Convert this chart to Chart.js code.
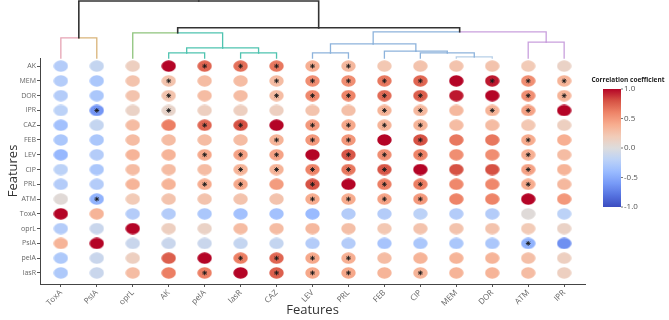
<!DOCTYPE html>
<html>
<head>
<meta charset="utf-8">
<script src="https://cdn.jsdelivr.net/npm/chart.js@4/dist/chart.umd.min.js"></script>
<style>
  html, body { margin: 0; padding: 0; background: #fff; }
</style>
</head>
<body>
<canvas id="corrChart" width="669" height="320"></canvas>
<script>
// labels (columns follow the dendrogram order, rows as in the plot)
const colLabels = ['ToxA', 'PsIA', 'oprL', 'AK', 'peIA', 'lasR', 'CAZ', 'LEV', 'PRL', 'FEB', 'CIP', 'MEM', 'DOR', 'ATM', 'IPR'];
const rowLabels = ['AK', 'MEM', 'DOR', 'IPR', 'CAZ', 'FEB', 'LEV', 'CIP', 'PRL', 'ATM', 'ToxA', 'oprL', 'PsIA', 'peIA', 'lasR'];

// correlation coefficients, one row per rowLabels entry
const corr = [
    [-0.25, -0.15, 0.15, 1.00, 0.72, 0.68, 0.65, 0.38, 0.32, 0.22, 0.25, 0.25, 0.25, 0.20, 0.12],
    [-0.25, -0.30, 0.25, 0.25, 0.30, 0.30, 0.30, 0.55, 0.55, 0.65, 0.72, 1.00, 0.95, 0.55, 0.35],
    [-0.25, -0.30, 0.25, 0.25, 0.30, 0.30, 0.30, 0.58, 0.60, 0.70, 0.75, 0.95, 1.00, 0.55, 0.35],
    [-0.20, -0.62, 0.12, 0.10, 0.15, 0.15, 0.15, 0.25, 0.28, 0.35, 0.32, 0.32, 0.35, 0.45, 1.00],
    [-0.35, -0.15, 0.30, 0.62, 0.72, 0.80, 1.00, 0.50, 0.42, 0.35, 0.35, 0.30, 0.30, 0.22, 0.15],
    [-0.30, -0.30, 0.30, 0.30, 0.30, 0.30, 0.35, 0.50, 0.50, 1.00, 0.80, 0.65, 0.65, 0.40, 0.38],
    [-0.42, -0.25, 0.35, 0.35, 0.42, 0.45, 0.45, 1.00, 0.78, 0.55, 0.60, 0.55, 0.55, 0.38, 0.30],
    [-0.20, -0.30, 0.30, 0.30, 0.30, 0.35, 0.35, 0.60, 0.65, 0.78, 1.00, 0.80, 0.80, 0.45, 0.35],
    [-0.25, -0.25, 0.35, 0.35, 0.40, 0.42, 0.48, 0.80, 1.00, 0.62, 0.62, 0.58, 0.58, 0.40, 0.32],
    [0.03, -0.45, 0.20, 0.25, 0.25, 0.25, 0.25, 0.40, 0.40, 0.45, 0.50, 0.60, 0.60, 1.00, 0.50],
    [1.00, 0.35, -0.25, -0.25, -0.30, -0.35, -0.35, -0.40, -0.25, -0.25, -0.20, -0.25, -0.25, 0.02, -0.20],
    [-0.25, -0.12, 1.00, 0.15, 0.12, 0.30, 0.30, 0.32, 0.28, 0.22, 0.25, 0.25, 0.25, 0.20, 0.12],
    [0.35, 1.00, -0.12, -0.12, -0.12, -0.15, -0.15, -0.25, -0.25, -0.32, -0.30, -0.30, -0.30, -0.45, -0.65],
    [-0.28, -0.12, 0.15, 0.75, 1.00, 0.62, 0.72, 0.42, 0.38, 0.30, 0.35, 0.35, 0.35, 0.28, 0.15],
    [-0.28, -0.12, 0.30, 0.62, 0.62, 1.00, 0.75, 0.42, 0.42, 0.35, 0.35, 0.35, 0.35, 0.30, 0.15]
];

// 1 = significant (asterisk)
const sig = [
    [0, 0, 0, 0, 1, 1, 1, 1, 1, 0, 0, 0, 0, 0, 0],
    [0, 0, 0, 1, 0, 0, 1, 1, 1, 1, 1, 0, 1, 1, 1],
    [0, 0, 0, 1, 0, 0, 1, 1, 1, 1, 1, 0, 0, 1, 1],
    [0, 1, 0, 1, 0, 0, 0, 0, 0, 1, 1, 0, 1, 1, 0],
    [0, 0, 0, 0, 1, 1, 0, 1, 1, 1, 1, 0, 0, 0, 0],
    [0, 0, 0, 0, 0, 0, 1, 1, 1, 0, 1, 0, 0, 1, 0],
    [0, 0, 0, 0, 1, 1, 1, 0, 1, 1, 1, 0, 0, 1, 0],
    [0, 0, 0, 0, 0, 1, 1, 1, 1, 1, 0, 0, 0, 1, 0],
    [0, 0, 0, 0, 1, 1, 0, 1, 0, 1, 1, 0, 0, 1, 0],
    [0, 1, 0, 0, 0, 0, 0, 1, 1, 1, 1, 0, 0, 0, 0],
    [0, 0, 0, 0, 0, 0, 0, 0, 0, 0, 0, 0, 0, 0, 0],
    [0, 0, 0, 0, 0, 0, 0, 0, 0, 0, 0, 0, 0, 0, 0],
    [0, 0, 0, 0, 0, 0, 0, 0, 0, 0, 0, 0, 0, 1, 0],
    [0, 0, 0, 0, 0, 1, 1, 1, 1, 0, 0, 0, 0, 0, 0],
    [0, 0, 0, 0, 1, 0, 1, 1, 1, 0, 1, 0, 0, 0, 0]
];

// dendrogram merges: [left child, right child, height]; ids 0-14 are leaves, merges get 15, 16, ...
const dendroMerges = [
    [11, 12, 1.2],
    [10, 15, 5.2],
    [9, 16, 6.8],
    [7, 8, 5.2],
    [18, 17, 14.2],
    [13, 14, 15.8],
    [19, 20, 26.2],
    [3, 4, 5.2],
    [5, 6, 5.2],
    [22, 23, 10.2],
    [2, 24, 25.2],
    [25, 21, 30.2],
    [0, 1, 20.2],
    [27, 26, 57]
];
// colour of left / right half of each merge
const mergeColors = [
    ['#b7cfe8', '#b7cfe8'],
    ['#8db3dc', '#8db3dc'],
    ['#8db3dc', '#8db3dc'],
    ['#8db3dc', '#8db3dc'],
    ['#8db3dc', '#8db3dc'],
    ['#c9a0dd', '#c9a0dd'],
    ['#8db3dc', '#c9a0dd'],
    ['#4fc3b0', '#4fc3b0'],
    ['#4fc3b0', '#4fc3b0'],
    ['#4fc3b0', '#4fc3b0'],
    ['#8ec47c', '#4fc3b0'],
    ['#333333', '#333333'],
    ['#e6a4b4', '#d9b479'],
    ['#333333', '#333333']
];

const cbarTicks = [1.0, 0.5, 0.0, -0.5, -1.0];

// coolwarm
const cmapStops = ['#3b4cc0', '#5673e0', '#779af7', '#9abbff', '#bcd2f7', '#dddcdc',
    '#f2cbb7', '#f7ac8e', '#ee8468', '#d65244', '#b40426'];
const FONT = "'Open Sans', 'DejaVu Sans', sans-serif";

function hexRgb(h) {
    return [parseInt(h.substr(1, 2), 16), parseInt(h.substr(3, 2), 16), parseInt(h.substr(5, 2), 16)];
}
function corrColor(v) {
    let t = Math.max(0, Math.min(1, (v + 1) / 2)) * (cmapStops.length - 1);
    let i = Math.min(Math.floor(t), cmapStops.length - 2);
    let f = t - i;
    let a = hexRgb(cmapStops[i]), b = hexRgb(cmapStops[i + 1]);
    let c = a.map((x, k) => Math.round(x + (b[k] - x) * f));
    return 'rgb(' + c.join(',') + ')';
}

// ellipse markers, cached per colour
const ellipseCache = {};
function ellipse(color) {
    if (!ellipseCache[color]) {
        const cv = document.createElement('canvas');
        cv.width = 15;
        cv.height = 12;
        const c = cv.getContext('2d');
        c.fillStyle = color;
        c.beginPath();
        c.ellipse(7.5, 6, 7.2, 5.8, 0, 0, Math.PI * 2);
        c.fill();
        ellipseCache[color] = cv;
    }
    return ellipseCache[color];
}

const dots = [];
const stars = [];
rowLabels.forEach((r, ri) => {
    colLabels.forEach((c, ci) => {
        dots.push({x: ci, y: ri, v: corr[ri][ci]});
        if (sig[ri][ci]) stars.push({x: ci, y: ri});
    });
});

const dendroPlugin = {
    id: 'dendro',
    afterDraw(chart) {
        const ctx = chart.ctx;
        const xs = chart.scales.x;
        const base = chart.chartArea.top;
        const nodeX = colLabels.map((_, i) => xs.getPixelForValue(i));
        const nodeY = colLabels.map(() => base);
        ctx.save();
        ctx.lineCap = 'square';
        dendroMerges.forEach((m, k) => {
            const [l, r, h] = m;
            const xl = nodeX[l], xr = nodeX[r], xm = (xl + xr) / 2;
            const y = base - h;
            const [cl, cr] = mergeColors[k];
            ctx.lineWidth = cl === '#333333' ? 1.6 : 1.3;
            ctx.strokeStyle = cl;
            ctx.beginPath();
            ctx.moveTo(xl, nodeY[l]);
            ctx.lineTo(xl, y);
            ctx.lineTo(xm, y);
            ctx.stroke();
            ctx.strokeStyle = cr;
            ctx.beginPath();
            ctx.moveTo(xm, y);
            ctx.lineTo(xr, y);
            ctx.lineTo(xr, nodeY[r]);
            ctx.stroke();
            nodeX.push(xm);
            nodeY.push(y);
        });
        ctx.restore();
    }
};

const colorbarPlugin = {
    id: 'colorbar',
    afterDraw(chart) {
        const ctx = chart.ctx;
        const x0 = chart.chartArea.right + 18, w = 18;
        const top = 89, bottom = 207;
        ctx.save();
        const g = ctx.createLinearGradient(0, top, 0, bottom);
        for (let i = 0; i <= 40; i++) {
            g.addColorStop(i / 40, corrColor(1 - i / 20));
        }
        ctx.fillStyle = g;
        ctx.fillRect(x0, top, w, bottom - top);
        ctx.font = 'bold 6.5px ' + FONT;
        ctx.fillStyle = '#222';
        ctx.textAlign = 'center';
        ctx.textBaseline = 'middle';
        ctx.fillText('Correlation coefficient', x0 + 25, 80);
        ctx.font = '8px ' + FONT;
        ctx.fillStyle = '#555';
        ctx.textAlign = 'left';
        ctx.strokeStyle = '#777';
        ctx.lineWidth = 1;
        cbarTicks.forEach(t => {
            const y = top + (1 - t) / 2 * (bottom - top);
            ctx.beginPath();
            ctx.moveTo(x0 + w, y);
            ctx.lineTo(x0 + w + 2, y);
            ctx.stroke();
            ctx.fillText(t.toFixed(1), x0 + w + 3, y);
        });
        ctx.restore();
    }
};

const ctx = document.getElementById('corrChart').getContext('2d');
const chart = new Chart(ctx, {
    type: 'scatter',
    data: {
        datasets: [{
            label: 'sig',
            data: stars,
            order: 0,
            pointStyle: 'star',
            radius: 2.4,
            borderColor: '#1a1a1a',
            borderWidth: 0.9,
            backgroundColor: '#1a1a1a'
        }, {
            label: 'corr',
            data: dots,
            order: 1,
            pointStyle: c => ellipse(corrColor(c.raw.v)),
            radius: 7
        }]
    },
    options: {
        responsive: false,
        animation: false,
        events: [],
        devicePixelRatio: 1,
        layout: {padding: {top: 58, right: 84, left: 0, bottom: 0}},
        plugins: {legend: {display: false}, tooltip: {enabled: false}},
        scales: {
            x: {
                type: 'linear',
                min: -0.58,
                max: 14.58,
                afterBuildTicks: s => { s.ticks = colLabels.map((_, i) => ({value: i})); },
                afterFit: s => { s.height = 36; },
                ticks: {
                    autoSkip: false,
                    minRotation: 45,
                    maxRotation: 45,
                    padding: 1,
                    color: '#666',
                    font: {size: 8, family: FONT},
                    callback: v => colLabels[v]
                },
                grid: {drawOnChartArea: false, tickLength: 3, color: '#555'},
                border: {color: '#444'},
                title: {
                    display: true, text: 'Features', color: '#333',
                    font: {size: 13, family: FONT}, padding: {top: 0, bottom: 2}
                }
            },
            y: {
                type: 'linear',
                reverse: true,
                min: -0.55,
                max: 14.75,
                afterBuildTicks: s => { s.ticks = rowLabels.map((_, i) => ({value: i})); },
                afterFit: s => { s.width = 40; },
                ticks: {
                    autoSkip: false,
                    padding: 1,
                    color: '#666',
                    font: {size: 7, family: FONT},
                    callback: v => rowLabels[v]
                },
                grid: {drawOnChartArea: false, tickLength: 3, color: '#555'},
                border: {color: '#444'},
                title: {
                    display: true, text: 'Features', color: '#333',
                    font: {size: 13, family: FONT}, padding: {top: 5, bottom: 0}
                }
            }
        }
    },
    plugins: [dendroPlugin, colorbarPlugin]
});
</script>
</body>
</html>
